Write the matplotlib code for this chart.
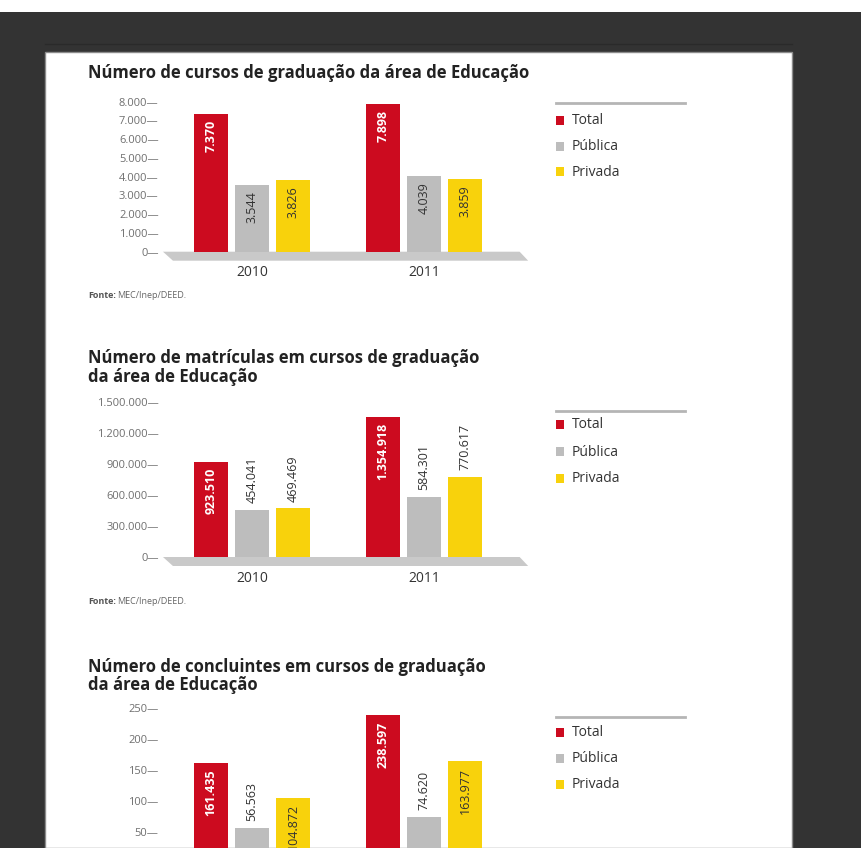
import numpy as np
import matplotlib.pyplot as plt
from matplotlib.patches import Rectangle, Polygon
from matplotlib.lines import Line2D

plt.rcParams['font.family'] = ['Open Sans', 'DejaVu Sans']

W, H = 862, 848

# Dados (MEC/Inep/DEED)
anos = ['2010', '2011']
series = ['Total', 'Pública', 'Privada']
cores = ['#cc0b1f', '#bdbdbd', '#f8d20c']

cursos_total = [7370, 7898]
cursos_publica = [3544, 4039]
cursos_privada = [3826, 3859]

matriculas_total = [923510, 1354918]
matriculas_publica = [454041, 584301]
matriculas_privada = [469469, 770617]

concluintes_total = [161435, 238597]
concluintes_publica = [56563, 74620]
concluintes_privada = [104872, 163977]


def fx(x):
    return x / W


def fy(y):
    return 1 - y / H


def milhar(v):
    return f"{int(round(v)):,}".replace(',', '.')


fig = plt.figure(figsize=(W / 100, H / 100), dpi=100)
fig.patch.set_facecolor('#333333')

# faixa branca no topo e página branca
fig.add_artist(Rectangle((0, fy(12)), 1, 12 / H, transform=fig.transFigure,
                         facecolor='white', edgecolor='none', zorder=-3))
fig.add_artist(Line2D([fx(45), fx(792)], [fy(44), fy(44)], transform=fig.transFigure,
                      color='#2a2a2a', lw=1, zorder=-3))
fig.add_artist(Rectangle((fx(45), 0), (792 - 45) / W, (H - 52) / H, transform=fig.transFigure,
                         facecolor='white', edgecolor='#8c8c8c', lw=1, zorder=-2))


def grafico(titulo, title_y, y_top, y_bot, dados, ymax, passo, escala,
            posicoes, year_y, fonte_y, leg_y):
    for linha, ty in zip(titulo, title_y):
        fig.text(fx(88), fy(ty), linha, fontsize=12, fontweight='bold',
                 color='#222222', va='center', ha='left')

    x0, x1 = 160, 530
    ax = fig.add_axes([fx(x0), fy(y_bot), (x1 - x0) / W, (y_bot - y_top) / H])
    ax.patch.set_alpha(0)
    for s in ax.spines.values():
        s.set_visible(False)

    ax.set_xlim((x0 - 252) / 172, (x1 - 252) / 172)
    ax.set_ylim(0, ymax)

    # plataforma cinza sob as barras
    h = 9 / (y_bot - y_top)
    ax.add_patch(Polygon([(0.008, 0), (0.972, 0), (0.995, -h), (0.035, -h)],
                         closed=True, transform=ax.transAxes, facecolor='#c9c9c9',
                         edgecolor='none', clip_on=False, zorder=1))

    x = np.arange(len(anos))
    desloc = [-0.24, 0, 0.24]
    for i, (vals, cor) in enumerate(zip(dados, cores)):
        barras = ax.bar(x + desloc[i], vals, width=0.2, color=cor, zorder=2,
                        clip_on=False)
        for b, v, pos in zip(barras, vals, posicoes[i]):
            cx = b.get_x() + b.get_width() / 2
            top = b.get_height()
            if pos == 'in':
                cor_txt = 'white' if i == 0 else '#333333'
                ax.annotate(milhar(v), (cx, top), xytext=(0, -4.5),
                            textcoords='offset points', rotation=90,
                            ha='center', va='top', fontsize=9,
                            fontweight='bold' if i == 0 else 'normal',
                            color=cor_txt, zorder=3, annotation_clip=False)
            else:
                ax.annotate(milhar(v), (cx, top), xytext=(0, 5),
                            textcoords='offset points', rotation=90,
                            ha='center', va='bottom', fontsize=9,
                            color='#333333', zorder=3, annotation_clip=False)

    # só os traços que cabem na página
    ticks = [t for t in np.arange(0, ymax + 1, passo)
             if y_bot - t / ymax * (y_bot - y_top) < H - 6]
    ax.set_yticks(ticks)
    ax.set_yticklabels([milhar(t / escala) + '—' for t in ticks],
                       fontsize=8, color='#6f6f6f')
    ax.tick_params(axis='y', length=0, pad=1)
    ax.set_xticks([])
    if year_y is not None:
        for xi, ano in zip(x, anos):
            ax.text(xi, -(year_y - y_bot) / (y_bot - y_top), ano,
                    transform=ax.get_xaxis_transform(), ha='center',
                    va='center', fontsize=10, color='#333333', clip_on=False)

    if fonte_y is not None:
        fig.text(fx(88), fy(fonte_y), 'Fonte:', fontsize=6.5, fontweight='bold',
                 color='#555555', va='center')
        fig.text(fx(117), fy(fonte_y), 'MEC/Inep/DEED.', fontsize=6.5,
                 color='#666666', va='center')

    # legenda
    fig.add_artist(Line2D([fx(556), fx(685)], [fy(leg_y[0]), fy(leg_y[0])],
                          transform=fig.transFigure, color='#b5b5b5', lw=2))
    for cor, nome, ly in zip(cores, series, leg_y[1:]):
        fig.add_artist(Rectangle((fx(556), fy(ly + 4)), 8 / W, 9 / H,
                                 transform=fig.transFigure, facecolor=cor,
                                 edgecolor='none'))
        fig.text(fx(572), fy(ly), nome, fontsize=10, color='#333333', va='center')


grafico(['Número de cursos de graduação da área de Educação'], [73],
        101.7, 251.7,
        [cursos_total, cursos_publica, cursos_privada], 8000, 1000, 1,
        [['in', 'in'], ['in', 'in'], ['in', 'in']],
        273, 295, [103, 121, 147, 172])

grafico(['Número de matrículas em cursos de graduação', 'da área de Educação'],
        [358, 377], 402, 557,
        [matriculas_total, matriculas_publica, matriculas_privada], 1500000, 300000, 1,
        [['in', 'in'], ['out', 'out'], ['out', 'out']],
        579, 602, [411, 425, 452, 479])

grafico(['Número de concluintes em cursos de graduação', 'da área de Educação'],
        [667, 685], 708, 863,
        [concluintes_total, concluintes_publica, concluintes_privada], 250000, 50000, 1000,
        [['in', 'in'], ['out', 'out'], ['in', 'in']],
        None, None, [717, 733, 759, 785])

fig.savefig('out.png', dpi=100, facecolor=fig.get_facecolor())
